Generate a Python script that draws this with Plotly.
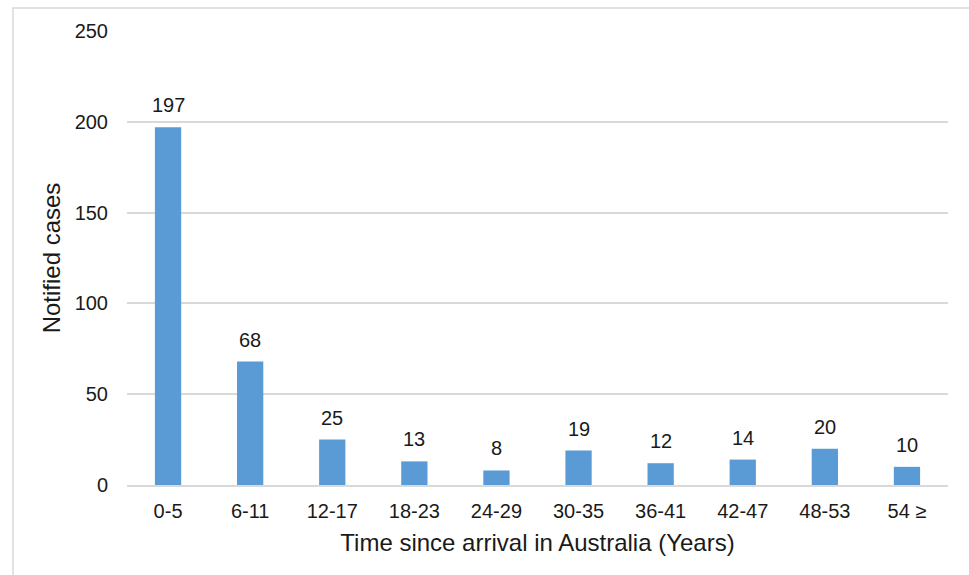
import plotly.graph_objects as go

categories = ["0-5", "6-11", "12-17", "18-23", "24-29", "30-35", "36-41", "42-47", "48-53", "54 ≥"]
cases = [197, 68, 25, 13, 8, 19, 12, 14, 20, 10]

FONT = "Liberation Sans, Arial, sans-serif"
TEXT = "#1a1a1a"

fig = go.Figure(
    go.Bar(
        x=categories,
        y=cases,
        marker=dict(color="#5B9BD5", line=dict(width=0)),
        hoverinfo="x+y",
    )
)

# value labels above each bar
for c, v in zip(categories, cases):
    fig.add_annotation(
        x=c, y=v, text=str(v), showarrow=False,
        yshift=22, font=dict(family=FONT, size=20, color=TEXT),
    )

# thin frame around the chart area
fig.add_shape(
    type="rect", xref="paper", yref="paper",
    x0=-0.1389, x1=1.2, y0=-0.4, y1=1.0507,
    line=dict(color="#d9d9d9", width=1.5), layer="below",
)

fig.update_layout(
    width=969, height=575,
    margin=dict(l=127, r=21, t=31, b=90),
    paper_bgcolor="white", plot_bgcolor="white",
    bargap=0.68,
    showlegend=False,
    font=dict(family=FONT, color=TEXT),
    xaxis=dict(
        title=dict(text="Time since arrival in Australia (Years)", font=dict(size=24), standoff=13),
        tickfont=dict(size=20),
        showgrid=False, showline=True, linecolor="#d9d9d9", linewidth=1.5,
        ticks="", ticklabelstandoff=7,
    ),
    yaxis=dict(
        title=dict(text="Notified cases", font=dict(size=24), standoff=7),
        tickfont=dict(size=20),
        range=[0, 250], tickvals=[0, 50, 100, 150, 200, 250],
        showgrid=True, gridcolor="#d9d9d9", gridwidth=1.5,
        zeroline=False, showline=False, ticks="", ticklabelstandoff=18,
    ),
)

fig.write_html("out.html")
